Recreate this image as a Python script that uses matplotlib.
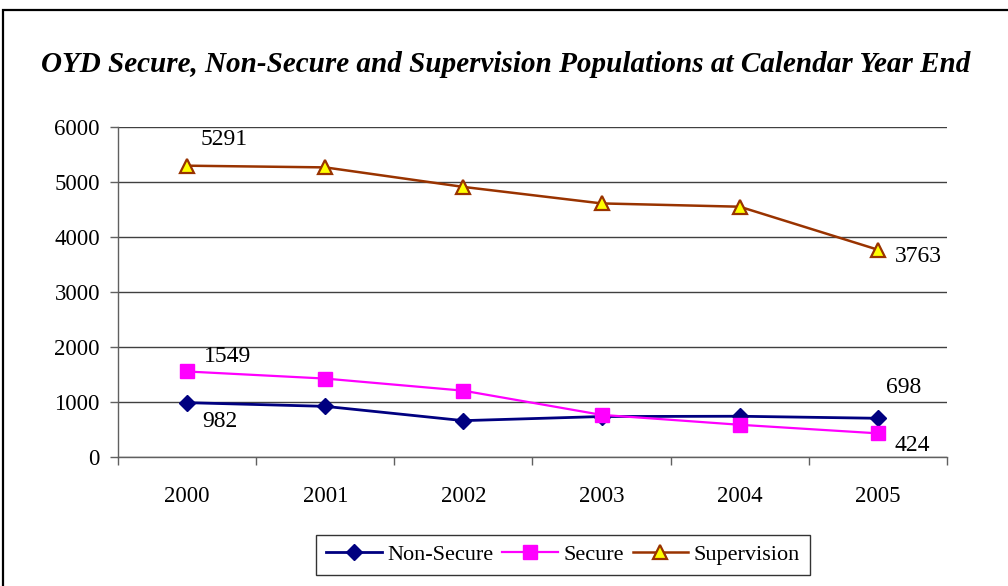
import numpy as np
import matplotlib.pyplot as plt
from matplotlib.patches import Rectangle

years = ['2000', '2001', '2002', '2003', '2004', '2005']
non_secure = [982, 915, 655, 730, 735, 698]
secure = [1549, 1420, 1200, 760, 580, 424]
supervision = [5291, 5260, 4905, 4605, 4545, 3763]

plt.rcParams['font.family'] = ['Liberation Serif', 'DejaVu Serif']

fig = plt.figure(figsize=(10.08, 5.86), dpi=100)
ax = fig.add_axes([0.117, 0.2207, 0.8225, 0.5631])

x = np.arange(len(years))
ax.plot(x, non_secure, color='#000080', lw=2, marker='D', ms=8.5,
        mfc='#000080', mec='#000080', label='Non-Secure', zorder=3)
ax.plot(x, secure, color='#FF00FF', lw=1.6, marker='s', ms=10,
        mfc='#FF00FF', mec='#FF00FF', label='Secure', zorder=3)
ax.plot(x, supervision, color='#993300', lw=1.8, marker='^', ms=10,
        mfc='#FFFF00', mec='#993300', mew=1.6, label='Supervision', zorder=3)

# first and last values labelled
labels = [(supervision, 0, (37, 26)), (secure, 0, (41, 15)), (non_secure, 0, (33, -19)),
          (supervision, 5, (40, -7)), (non_secure, 5, (26, 31)), (secure, 5, (34, -12))]
for series, i, off in labels:
    ax.annotate(str(series[i]), (x[i], series[i]), xytext=off, textcoords='offset pixels',
                ha='center', va='center', fontsize=17)

ax.set_xlim(-0.5, 5.5)
ax.set_ylim(0, 6000)
ax.set_yticks(np.arange(0, 6001, 1000))
ax.yaxis.grid(True, color='#404040', lw=1)
ax.set_axisbelow(True)

ax.set_xticks(x)
ax.set_xticklabels(years)
ax.set_xticks(np.arange(-0.5, 6, 1), minor=True)
ax.tick_params(axis='x', which='major', length=0, pad=21, labelsize=16.5)
ax.tick_params(axis='x', which='minor', length=6, width=1, color='#606060', direction='out')
ax.tick_params(axis='y', length=6, width=1, color='#606060', labelsize=16.5, pad=7)

for s in ['top', 'right']:
    ax.spines[s].set_visible(False)
for s in ['left', 'bottom']:
    ax.spines[s].set_color('#606060')
    ax.spines[s].set_linewidth(1)

fig.text(0.5015, 0.8905, 'OYD Secure, Non-Secure and Supervision Populations at Calendar Year End',
         ha='center', va='center', fontsize=21, fontweight='bold', fontstyle='italic')

leg = fig.legend(loc='center', bbox_to_anchor=(0.5585, 0.053), ncol=3, fontsize=16,
                 frameon=True, fancybox=False, edgecolor='black', handlelength=2.5,
                 columnspacing=0.4, handletextpad=0.25, borderpad=0.45, borderaxespad=0)
leg.get_frame().set_linewidth(1)

fig.patches.append(Rectangle((3 / 1008, -0.1), 1.2, 1.1 - 10 / 586, transform=fig.transFigure,
                             fill=False, edgecolor='black', lw=1.6))

fig.savefig('out.png', dpi=100)
